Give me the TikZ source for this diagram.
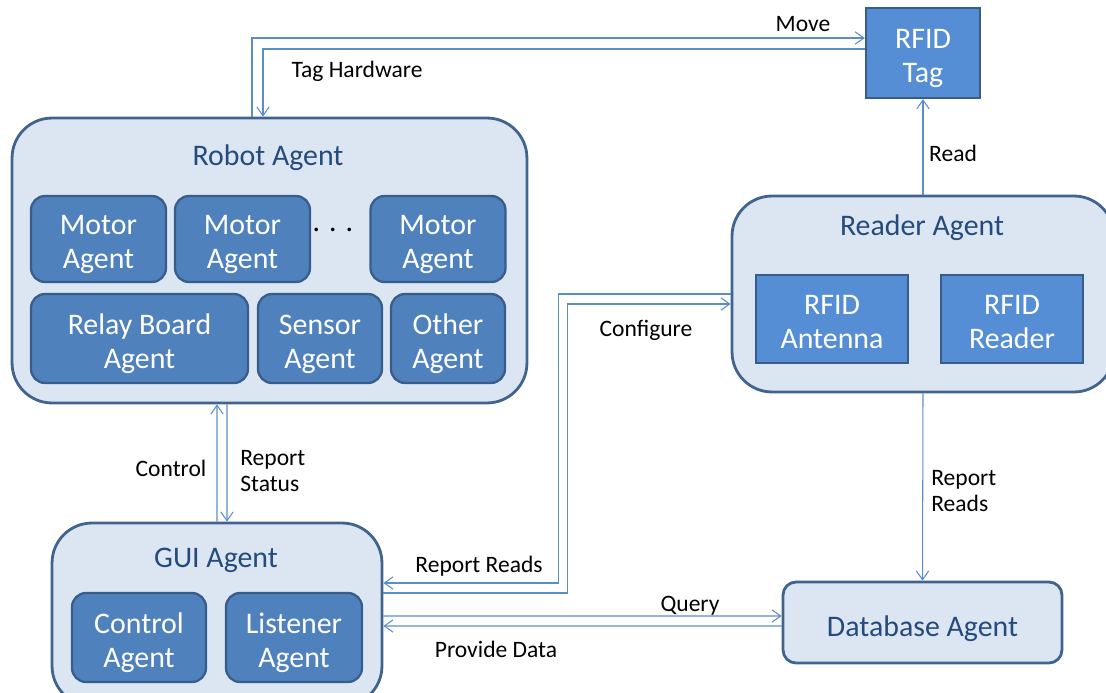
\documentclass[tikz,border=0pt]{standalone}
\usepackage{fontspec}
\setmainfont{Carlito}
\usetikzlibrary{arrows.meta}

\definecolor{groupfill}{HTML}{DCE6F2}
\definecolor{groupedge}{HTML}{41648F}
\definecolor{agentfill}{HTML}{4F81BD}
\definecolor{agentedge}{HTML}{385D8A}
\definecolor{tagfill}{HTML}{558ED5}
\definecolor{titletext}{HTML}{254A7C}
\definecolor{linkblue}{HTML}{5B8DCB}

\begin{document}
\begin{tikzpicture}[x=0.02cm, y=-0.02cm]
      \tikzstyle{agentgroup} = [rectangle, rounded corners=0.8cm, minimum width=2cm, draw=groupedge, line width=1.6pt, fill=groupfill]
      \tikzstyle{agent} = [rectangle, rounded corners=0.28cm, draw=agentedge, line width=1.3pt, fill=agentfill, text=white, align=center, text height=34pt, text depth=0pt, font=\fontsize{17}{19.5}\selectfont]
      \tikzstyle{hardware} = [rectangle, draw=agentedge, line width=1.3pt, fill=tagfill, text=white, align=center, text height=34pt, text depth=0pt, font=\fontsize{17}{19.5}\selectfont]
      \tikzstyle{heading} = [text=titletext, font=\fontsize{17}{20}\selectfont]
      \tikzstyle{msg} = [align=left, inner sep=0pt, font=\fontsize{13.4}{15.3}\selectfont]
      \tikzstyle{arrow} = [draw=linkblue, line width=0.6pt, -{Straight Barb[length=5pt,width=7pt]}]

      \useasboundingbox (0,0) rectangle (1106,693);
      \clip (0,0) rectangle (1106,693);

      % robot agent and its parts
      \node (robot) [agentgroup, minimum width=10.3cm, minimum height=5.7cm] at (269.5,260.5) {};
      \node (robot-title) [heading] at (268,158) {Robot Agent};
      \node (motor-1) [agent, minimum width=2.7cm, minimum height=1.72cm] at (98.5,239) {Motor\\Agent};
      \node (motor-2) [agent, minimum width=2.7cm, minimum height=1.72cm] at (242.5,239) {Motor\\Agent};
      \node (motor-dots) [font=\fontsize{17}{19.5}\selectfont] at (333,230) {. . .};
      \node (motor-n) [agent, minimum width=2.7cm, minimum height=1.72cm] at (438,239) {Motor\\Agent};
      \node (relay) [agent, minimum width=4.34cm, minimum height=1.78cm] at (139.5,338.5) {Relay Board\\Agent};
      \node (sensor) [agent, minimum width=2.48cm, minimum height=1.78cm] at (320,338.5) {Sensor\\Agent};
      \node (other) [agent, minimum width=2.28cm, minimum height=1.78cm] at (448,338.5) {Other\\Agent};

      % tag and reader
      \node (tag) [hardware, minimum width=2.28cm, minimum height=1.8cm] at (923,53) {RFID\\Tag};
      \node (reader) [agentgroup, minimum width=7.64cm, minimum height=3.92cm] at (923,294) {};
      \node (reader-title) [heading] at (922,228) {Reader Agent};
      \node (antenna) [hardware, minimum width=3.04cm, minimum height=1.76cm] at (832,319) {RFID\\Antenna};
      \node (rfid-reader) [hardware, minimum width=2.84cm, minimum height=1.76cm] at (1012,319) {RFID\\Reader};

      % gui agent
      \node (gui) [agentgroup, minimum width=6.6cm, minimum height=3.66cm] at (217,614.5) {};
      \node (gui-title) [heading] at (216,560) {GUI Agent};
      \node (control) [agent, minimum width=2.68cm, minimum height=1.78cm] at (139,637.5) {Control\\Agent};
      \node (listener) [agent, minimum width=2.72cm, minimum height=1.78cm] at (294,637.5) {Listener\\Agent};

      % database
      \node (database) [agentgroup, rounded corners=0.26cm, minimum width=5.58cm, minimum height=1.62cm, text=titletext, text height=16pt, text depth=0pt, font=\fontsize{17}{20}\selectfont] at (922.5,622.5) {Database Agent};

      % messages
      \draw [arrow] ([xshift=-0.35cm]robot.north) |- ([yshift=0.3cm]tag.west);
      \draw [arrow] ([yshift=0.08cm]tag.west) -| ([xshift=-0.13cm]robot.north);
      \draw [arrow] (reader.north) -- (tag.south);
      \draw [arrow] (reader.west) -| ([xshift=3.5cm,yshift=0.63cm]gui.east) -- ([yshift=0.63cm]gui.east);
      \draw [arrow] ([yshift=0.43cm]gui.east) -| ([xshift=-3.26cm,yshift=-0.2cm]reader.west) -- ([yshift=-0.2cm]reader.west);
      \draw [arrow] (reader.south) -- (database.north);
      \draw [arrow] ([yshift=-0.03cm]gui.east) -- ([yshift=0.13cm]database.west);
      \draw [arrow] ([yshift=-0.07cm]database.west) -- ([yshift=-0.23cm]gui.east);
      \draw [arrow] (gui.north) -- ([xshift=-1.05cm]robot.south);
      \draw [arrow] ([xshift=-0.85cm]robot.south) -- ([xshift=0.2cm]gui.north);

      \node (move-msg) [msg] at (803,24) {Move};
      \node (hardware-msg) [msg] at (357,71) {Tag Hardware};
      \node (read-msg) [msg] at (953,153) {Read};
      \node (configure-msg) [msg] at (646,330) {Configure};
      \node (gui-reads-msg) [msg] at (479,566) {Report Reads};
      \node (query-msg) [msg] at (690,606) {Query};
      \node (provide-msg) [msg] at (496,649) {Provide Data};
      \node (control-msg) [msg] at (171,468) {Control};
      \node (status-msg) [msg, anchor=west] at (240,471) {Report\\Status};
      \node (db-reads-msg) [msg, anchor=west] at (931,491) {Report\\Reads};
\end{tikzpicture}
\end{document}
